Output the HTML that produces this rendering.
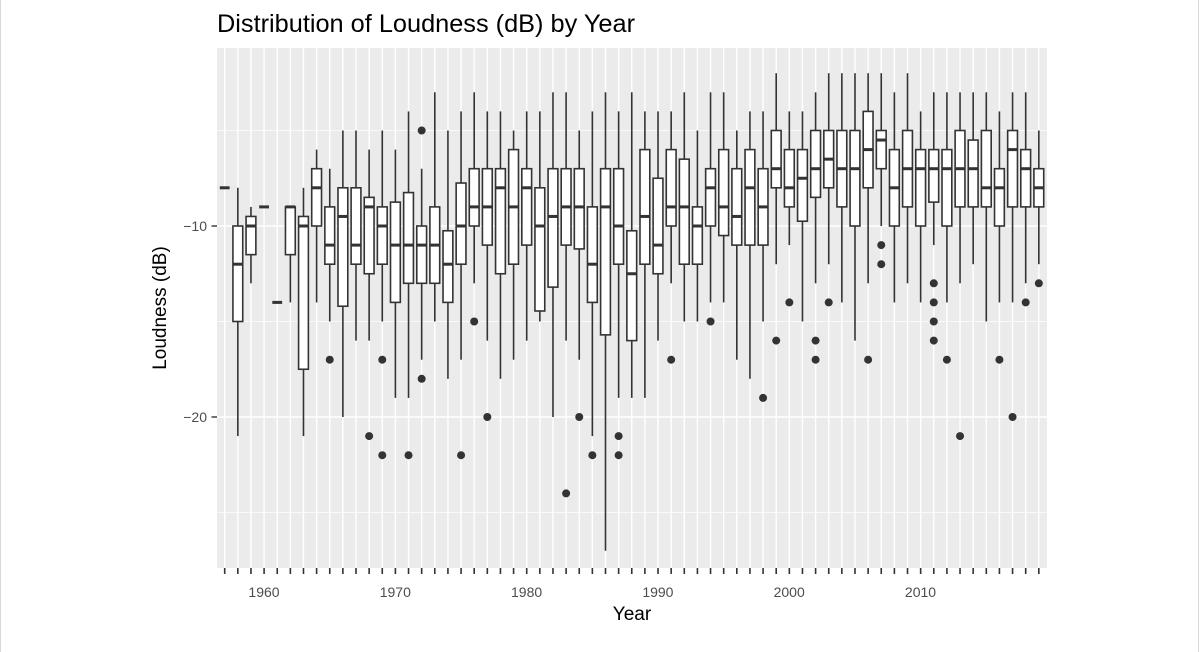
<!DOCTYPE html>
<html><head><meta charset="utf-8"><style>
html,body{margin:0;padding:0;background:#fff;}
body{width:1200px;height:652px;overflow:hidden;}
svg{display:block;font-family:"Liberation Sans",Arial,sans-serif;}
</style></head><body>
<svg id="s" width="1200" height="652" viewBox="0 0 1200 652" xmlns="http://www.w3.org/2000/svg">
<rect x="0.5" y="-1" width="1198" height="654" fill="#fff" stroke="#d9d9d9"/>
<rect x="217" y="48" width="830" height="520" fill="#ebebeb"/>
<g id="grid"></g>
<g id="boxes"></g>
<g id="ticks"></g>
<text x="217" y="32" font-size="25" fill="#000" textLength="418" lengthAdjust="spacingAndGlyphs">Distribution of Loudness (dB) by Year</text>
<text x="207" y="231" font-size="14" fill="#4d4d4d" text-anchor="end">−10</text>
<text x="207" y="422" font-size="14" fill="#4d4d4d" text-anchor="end">−20</text>
<text x="264" y="597" font-size="14" fill="#4d4d4d" text-anchor="middle">1960</text>
<text x="395.3" y="597" font-size="14" fill="#4d4d4d" text-anchor="middle">1970</text>
<text x="526.6" y="597" font-size="14" fill="#4d4d4d" text-anchor="middle">1980</text>
<text x="657.9" y="597" font-size="14" fill="#4d4d4d" text-anchor="middle">1990</text>
<text x="789.2" y="597" font-size="14" fill="#4d4d4d" text-anchor="middle">2000</text>
<text x="920.5" y="597" font-size="14" fill="#4d4d4d" text-anchor="middle">2010</text>
<text x="632" y="620" font-size="19" fill="#000" text-anchor="middle">Year</text>
<text transform="translate(166,308) rotate(-90)" font-size="19" fill="#000" text-anchor="middle">Loudness (dB)</text>
</svg>
<script>
var NS="http://www.w3.org/2000/svg";
function el(p,t,a){var e=document.createElementNS(NS,t);for(var k in a)e.setAttribute(k,a[k]);p.appendChild(e);return e;}
function X(yr){return 224.7+(yr-1957)*13.131;}
function Y(v){return 35-19.1*v;}
var g=document.getElementById('grid'),b=document.getElementById('boxes'),t=document.getElementById('ticks');
[-5,-15,-25].forEach(function(v){el(g,'line',{x1:217,x2:1047,y1:Y(v),y2:Y(v),stroke:'#fff','stroke-width':0.7});});
[-10,-20].forEach(function(v){el(g,'line',{x1:217,x2:1047,y1:Y(v),y2:Y(v),stroke:'#fff','stroke-width':1.4});
 el(t,'line',{x1:211.5,x2:217,y1:Y(v),y2:Y(v),stroke:'#333','stroke-width':1.4});});
for(var yr=1957;yr<=2019;yr++){var x=X(yr);
 el(g,'line',{x1:x,x2:x,y1:48,y2:568,stroke:'#fff','stroke-width':1.4});
 el(t,'line',{x1:x,x2:x,y1:568,y2:574,stroke:'#333','stroke-width':1.6});}
var D=[
[1957,-8,-8,-8,-8,-8,[]],
[1958,-21,-15,-12,-10,-8,[]],
[1959,-13,-11.5,-10,-9.5,-9,[]],
[1960,-9,-9,-9,-9,-9,[]],
[1961,-14,-14,-14,-14,-14,[]],
[1962,-14,-11.5,-9,-9,-9,[]],
[1963,-21,-17.5,-10,-9.5,-8,[]],
[1964,-14,-10,-8,-7,-6,[]],
[1965,-15,-12,-11,-9,-7,[-17]],
[1966,-20,-14.2,-9.5,-8,-5,[]],
[1967,-16,-12,-11,-8,-5,[]],
[1968,-16,-12.5,-9,-8.5,-6,[-21]],
[1969,-15,-12,-10,-9,-5,[-17,-22]],
[1970,-19,-14,-11,-8.75,-6,[]],
[1971,-19,-13,-11,-8.25,-4,[-22]],
[1972,-17,-13,-11,-10,-7,[-5,-18]],
[1973,-15,-13,-11,-9,-3,[]],
[1974,-18,-14,-12,-10.25,-5,[]],
[1975,-17,-12,-10,-7.75,-4,[-22]],
[1976,-13,-10,-9,-7,-3,[-15]],
[1977,-16,-11,-9,-7,-4,[-20]],
[1978,-18,-12.5,-8,-7,-4,[]],
[1979,-17,-12,-9,-6,-5,[]],
[1980,-16,-11,-8,-7,-4,[]],
[1981,-15,-14.45,-10,-8,-4,[]],
[1982,-20,-13.2,-9.5,-7,-3,[]],
[1983,-16,-11,-9,-7,-3,[-24]],
[1984,-17,-11.2,-9,-7,-5,[-20]],
[1985,-21,-14,-12,-9,-4,[-22]],
[1986,-27,-15.7,-9,-7,-3,[]],
[1987,-19,-12,-10,-7,-4,[-21,-22]],
[1988,-19,-16,-12.5,-10.25,-3,[]],
[1989,-19,-12,-9.5,-6,-4,[]],
[1990,-16,-12.5,-11,-7.5,-4,[]],
[1991,-13,-10,-9,-6,-4,[-17]],
[1992,-15,-12,-9,-6.5,-3,[]],
[1993,-15,-12,-10,-9,-5,[]],
[1994,-14,-10,-8,-7,-3,[-15]],
[1995,-14,-10.5,-9,-6,-3,[]],
[1996,-17,-11,-9.5,-7,-5,[]],
[1997,-18,-11,-8,-6,-4,[]],
[1998,-15,-11,-9,-7,-4,[-19]],
[1999,-12,-8,-7,-5,-2,[-16]],
[2000,-11,-9,-8,-6,-4,[-14]],
[2001,-15,-9.75,-7.5,-6,-4,[]],
[2002,-13,-8.5,-7,-5,-3,[-16,-17]],
[2003,-12,-8,-6.5,-5,-2,[-14]],
[2004,-14,-9,-7,-5,-2,[]],
[2005,-16,-10,-7,-5,-2,[]],
[2006,-13,-8,-6,-4,-2,[-17]],
[2007,-10,-7,-5.5,-5,-2,[-11,-12]],
[2008,-14,-10,-8,-6,-3,[]],
[2009,-13,-9,-7,-5,-2,[]],
[2010,-14,-10,-7,-6,-4,[]],
[2011,-11,-8.75,-7,-6,-3,[-13,-14,-15,-16]],
[2012,-14,-10,-7,-6,-3,[-17]],
[2013,-13,-9,-7,-5,-3,[-21]],
[2014,-12,-9,-7,-5.5,-3,[]],
[2015,-15,-9,-8,-5,-3,[]],
[2016,-14,-10,-8,-7,-4,[-17]],
[2017,-14,-9,-6,-5,-3,[-20]],
[2018,-13,-9,-7,-6,-3,[-14]],
[2019,-12,-9,-8,-7,-5,[-13]]
];
var hw=4.9;
D.forEach(function(d){var x=X(d[0]);
 el(b,'line',{x1:x,x2:x,y1:Y(d[1]),y2:Y(d[2]),stroke:'#333','stroke-width':1.6});
 el(b,'line',{x1:x,x2:x,y1:Y(d[4]),y2:Y(d[5]),stroke:'#333','stroke-width':1.6});
 el(b,'rect',{x:x-hw,y:Y(d[4]),width:2*hw,height:Math.max(0,Y(d[2])-Y(d[4])),fill:'#fff',stroke:'#333','stroke-width':1.6});
 el(b,'line',{x1:x-hw,x2:x+hw,y1:Y(d[3]),y2:Y(d[3]),stroke:'#333','stroke-width':3});
 d[6].forEach(function(o){el(b,'circle',{cx:x,cy:Y(o),r:4,fill:'#333'});});
});
</script>
</body></html>
